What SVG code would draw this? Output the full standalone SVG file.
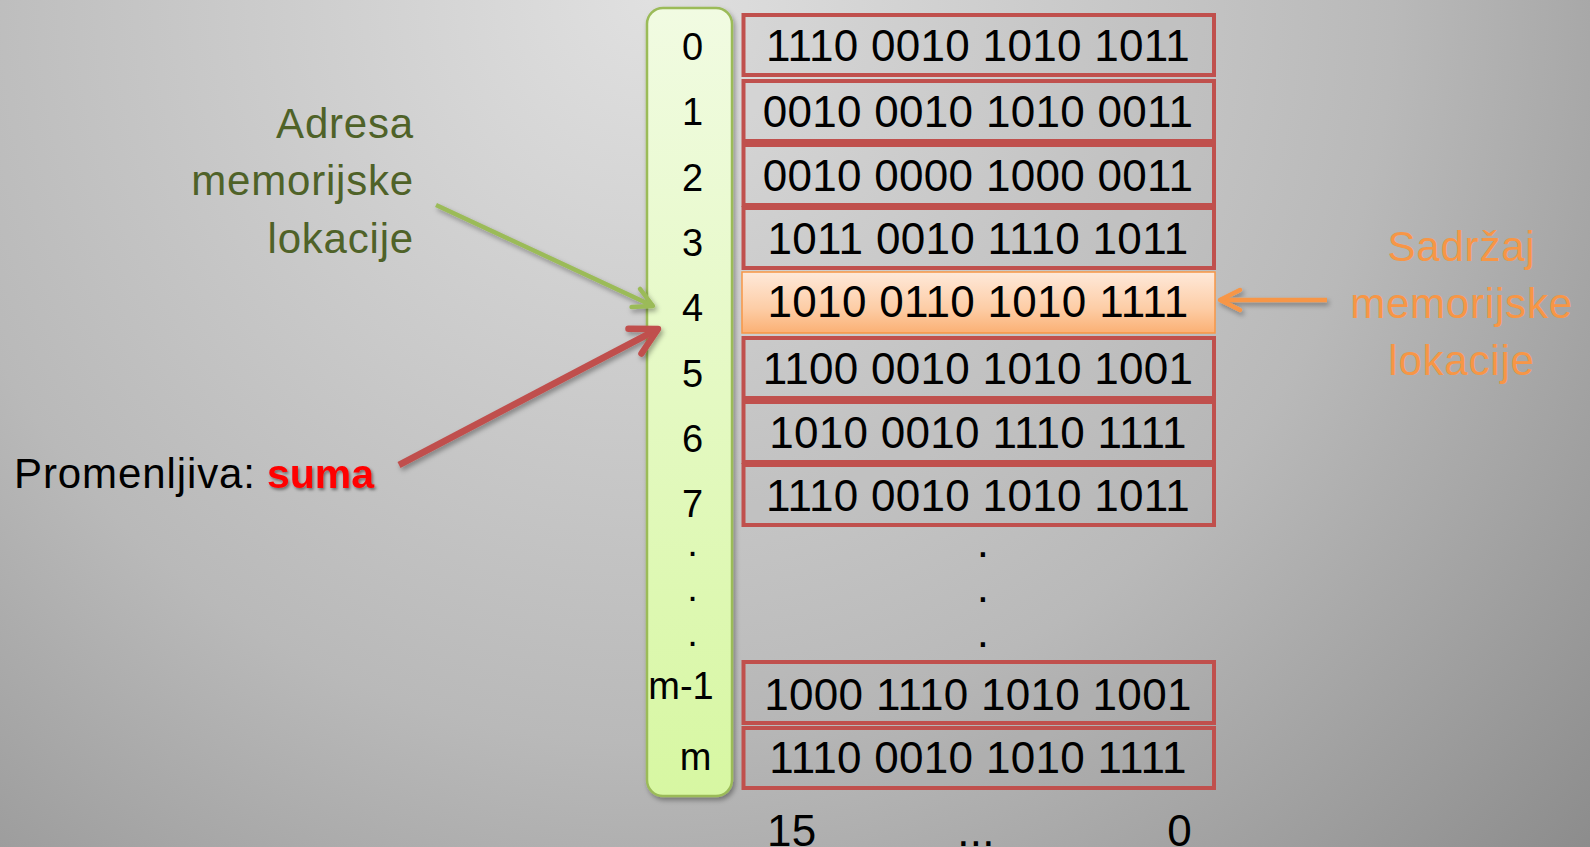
<svg xmlns="http://www.w3.org/2000/svg" width="1590" height="847" viewBox="0 0 1590 847">
  <defs>
    <radialGradient id="bg" gradientUnits="userSpaceOnUse" cx="650" cy="0" r="1350">
      <stop offset="0" stop-color="#e0e0e0"/>
      <stop offset="0.55" stop-color="#b9b9b9"/>
      <stop offset="1" stop-color="#858585"/>
    </radialGradient>
    <linearGradient id="colFill" x1="0" y1="0" x2="0" y2="1">
      <stop offset="0" stop-color="#f1fbe2"/>
      <stop offset="1" stop-color="#d7f7a2"/>
    </linearGradient>
    <linearGradient id="orangeFill" x1="0" y1="0" x2="0" y2="1">
      <stop offset="0" stop-color="#fee9da"/>
      <stop offset="0.6" stop-color="#fdcda6"/>
      <stop offset="1" stop-color="#fbb074"/>
    </linearGradient>
    <filter id="shadow" x="-20%" y="-20%" width="140%" height="140%">
      <feDropShadow dx="2" dy="3" stdDeviation="2.5" flood-color="#000" flood-opacity="0.35"/>
    </filter>
    <filter id="tshadow" x="-20%" y="-30%" width="140%" height="160%">
      <feDropShadow dx="1.5" dy="2" stdDeviation="1.5" flood-color="#000" flood-opacity="0.45"/>
    </filter>
    <marker id="headGreen" viewBox="-40 -20 44 40" refX="0" refY="0" markerWidth="44" markerHeight="40" markerUnits="userSpaceOnUse" orient="auto">
      <path d="M -19 -10 L 0 0 L -19 10" fill="none" stroke="#9bbb59" stroke-width="4.5" stroke-linecap="round" stroke-linejoin="round"/>
    </marker>
    <marker id="headRed" viewBox="-40 -20 44 40" refX="0" refY="0" markerWidth="44" markerHeight="40" markerUnits="userSpaceOnUse" orient="auto">
      <path d="M -26 -14 L 0 0 L -26 14" fill="none" stroke="#c0504d" stroke-width="6.5" stroke-linecap="round" stroke-linejoin="round"/>
    </marker>
    <marker id="headOrange" viewBox="-40 -20 44 40" refX="0" refY="0" markerWidth="44" markerHeight="40" markerUnits="userSpaceOnUse" orient="auto">
      <path d="M -20 -10 L 0 0 L -20 10" fill="none" stroke="#f79646" stroke-width="4.5" stroke-linecap="round" stroke-linejoin="round"/>
    </marker>
  </defs>
  <style>
    .cell { fill: #808080; fill-opacity: 0.05; stroke: #c0504d; stroke-width: 4; }
    .bits { font-family: "Liberation Sans", Arial, sans-serif; font-size: 44px; letter-spacing: 0.3px; fill: #000; text-anchor: middle; }
    .addr { font-family: "Liberation Sans", Arial, sans-serif; font-size: 38px; fill: #000; text-anchor: middle; }
    .lbl { font-family: "Liberation Sans", Arial, sans-serif; font-size: 42px; letter-spacing: 0.8px; }
    .green { fill: #4f6228; }
    .orange { fill: #f79646; }
  </style>

  <rect x="0" y="0" width="1590" height="847" fill="url(#bg)"/>

  <!-- address column -->
  <g id="address-column">
    <rect x="647" y="8" width="85" height="788" rx="16" ry="16" fill="url(#colFill)" stroke="#9bbb59" stroke-width="2.5" filter="url(#shadow)"/>
    <text class="addr" x="692.5" y="60">0</text>
    <text class="addr" x="692.5" y="125.3">1</text>
    <text class="addr" x="692.5" y="190.6">2</text>
    <text class="addr" x="692.5" y="255.9">3</text>
    <text class="addr" x="692.5" y="321.2">4</text>
    <text class="addr" x="692.5" y="386.5">5</text>
    <text class="addr" x="692.5" y="451.8">6</text>
    <text class="addr" x="692.5" y="517.1">7</text>
    <text class="addr" x="692.5" y="556">.</text>
    <text class="addr" x="692.5" y="601">.</text>
    <text class="addr" x="692.5" y="646">.</text>
    <text class="addr" x="681" y="699">m-1</text>
    <text class="addr" x="695.5" y="770">m</text>
  </g>

  <!-- memory cells -->
  <g id="cell-0"><rect class="cell" x="743.5" y="15" width="470.5" height="60"/><text class="bits" x="978" y="61">1110 0010 1010 1011</text></g>
  <g id="cell-1"><rect class="cell" x="743.5" y="81" width="470.5" height="60"/><text class="bits" x="978" y="127">0010 0010 1010 0011</text></g>
  <g id="cell-2"><rect class="cell" x="743.5" y="145" width="470.5" height="60"/><text class="bits" x="978" y="191">0010 0000 1000 0011</text></g>
  <g id="cell-3"><rect class="cell" x="743.5" y="208" width="470.5" height="60"/><text class="bits" x="978" y="254">1011 0010 1110 1011</text></g>
  <g id="cell-4"><rect x="742" y="272" width="473" height="61" fill="url(#orangeFill)" stroke="#f79646" stroke-width="1.5"/><text class="bits" x="978" y="317">1010 0110 1010 1111</text></g>
  <g id="cell-5"><rect class="cell" x="743.5" y="338" width="470.5" height="60"/><text class="bits" x="978" y="384">1100 0010 1010 1001</text></g>
  <g id="cell-6"><rect class="cell" x="743.5" y="402" width="470.5" height="60"/><text class="bits" x="978" y="448">1010 0010 1110 1111</text></g>
  <g id="cell-7"><rect class="cell" x="743.5" y="465" width="470.5" height="60"/><text class="bits" x="978" y="511">1110 0010 1010 1011</text></g>
  <g id="cell-dots">
    <text class="bits" x="983" y="557">.</text>
    <text class="bits" x="983" y="602">.</text>
    <text class="bits" x="983" y="647">.</text>
  </g>
  <g id="cell-m-1"><rect class="cell" x="743.5" y="662" width="470.5" height="61"/><text class="bits" x="978" y="710">1000 1110 1010 1001</text></g>
  <g id="cell-m"><rect class="cell" x="743.5" y="728" width="470.5" height="60"/><text class="bits" x="978" y="773">1110 0010 1010 1111</text></g>

  <!-- bit index labels -->
  <g id="bit-labels">
    <text class="bits" x="767" y="846" style="text-anchor:start">15</text>
    <text class="bits" x="976" y="846">...</text>
    <text class="bits" x="1192" y="846" style="text-anchor:end">0</text>
  </g>

  <!-- labels -->
  <g id="label-address">
    <text class="lbl green" x="414" y="138" text-anchor="end">Adresa</text>
    <text class="lbl green" x="414" y="195" text-anchor="end">memorijske</text>
    <text class="lbl green" x="414" y="253" text-anchor="end">lokacije</text>
  </g>
  <g id="label-content">
    <text class="lbl orange" x="1461.5" y="261" text-anchor="middle">Sadržaj</text>
    <text class="lbl orange" x="1461.5" y="318" text-anchor="middle">memorijske</text>
    <text class="lbl orange" x="1461.5" y="375" text-anchor="middle">lokacije</text>
  </g>
  <g id="label-variable">
    <text class="lbl" x="14" y="488" style="letter-spacing:0.9px" fill="#000">Promenljiva:</text>
    <text class="lbl" x="267" y="488" style="font-size:41px;letter-spacing:0" font-weight="bold" fill="#ff0000" filter="url(#tshadow)">suma</text>
  </g>

  <!-- connectors -->
  <g id="connectors" filter="url(#shadow)">
    <line x1="436" y1="205" x2="653" y2="306" stroke="#9bbb59" stroke-width="4.5" marker-end="url(#headGreen)"/>
    <line x1="399" y1="465" x2="658" y2="329" stroke="#c0504d" stroke-width="6.5" marker-end="url(#headRed)"/>
    <line x1="1327" y1="300" x2="1220" y2="300" stroke="#f79646" stroke-width="4.5" marker-end="url(#headOrange)"/>
  </g>
</svg>
